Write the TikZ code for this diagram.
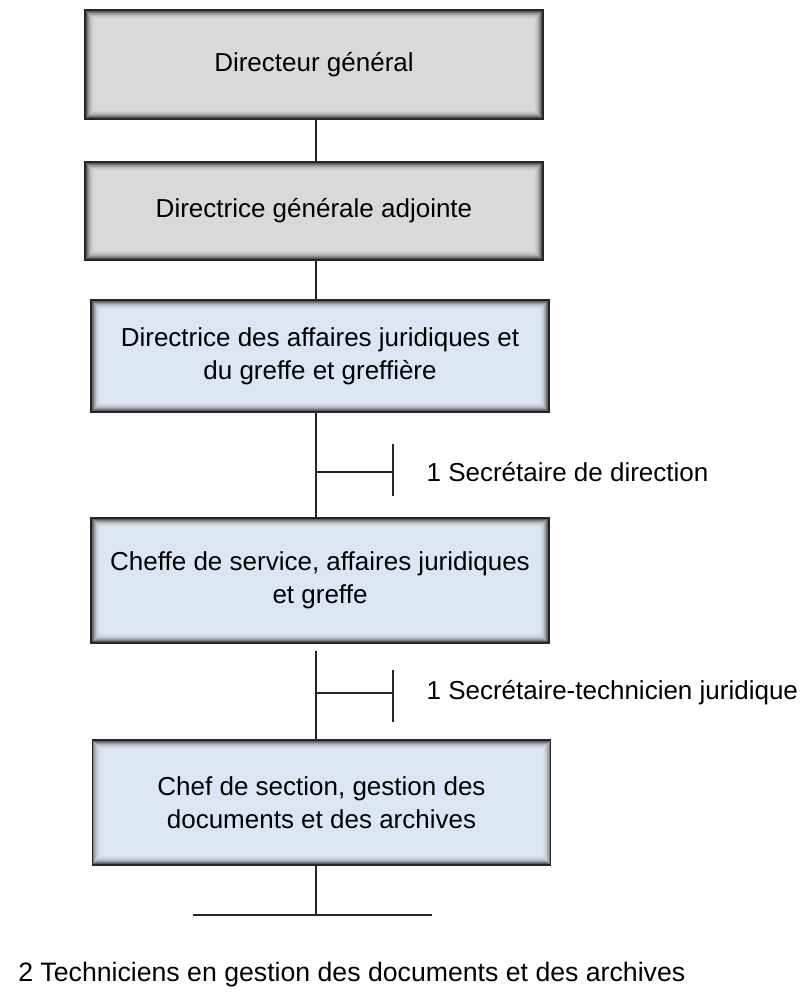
\documentclass[tikz,border=0pt]{standalone}
\usepackage{fontspec}
\setmainfont{Liberation Sans}
\usetikzlibrary{positioning}

\definecolor{postgray}{HTML}{D9D9D9}
\definecolor{postblue}{HTML}{DCE6F2}

\tikzset{
  post/.style={draw=black!85, line width=1.4pt, minimum width=343.5pt,
    align=center, font=\fontsize{19.5pt}{24.5pt}\selectfont,
    path picture={
      \foreach \i/\o in {1/0.42,2/0.30,3/0.21,4/0.14,5/0.09,6/0.05,7/0.03,8/0.015}
        \draw[black, opacity=\o, line width=0.8pt]
          ([xshift=\i*0.75pt, yshift=\i*0.75pt]path picture bounding box.south west)
          rectangle ([xshift=-\i*0.75pt, yshift=-\i*0.75pt]path picture bounding box.north east);
    }},
  grey post/.style={post, fill=postgray},
  blue post/.style={post, fill=postblue},
  link/.style={draw=black!85, line width=1.1pt},
  staff/.style={font=\fontsize{19.5pt}{24pt}\selectfont, inner sep=0pt, anchor=west}
}

\begin{document}
\begin{tikzpicture}[x=0.75pt,y=-0.75pt]
\useasboundingbox (0,0) rectangle (811,992);

% postes
\node[grey post, minimum height=81.75pt] (dg) at (314,64.5) {Directeur général};
\node[grey post, minimum height=73.5pt] (dga) at (314,211) {Directrice générale adjointe};
\node[blue post, minimum height=84pt] (daj) at (320,356) {Directrice des affaires juridiques et\\du greffe et greffière};
\node[blue post, minimum height=93.75pt] (chef) at (320,580.5) {Cheffe de service, affaires juridiques\\et greffe};
\node[blue post, minimum height=93.75pt] (sect) at (321.5,802.5) {Chef de section, gestion des\\documents et des archives};

% ligne hierarchique
\coordinate (spine) at (316,0);
\draw[link] (dg.south -| spine) -- (dga.north -| spine);
\draw[link] (dga.south -| spine) -- (daj.north -| spine);
\draw[link] (daj.south -| spine) -- (chef.north -| spine);
\draw[link] ([yshift=-5pt]chef.south -| spine) -- (sect.north -| spine);

% secretaires
\coordinate (b1) at (316,472);
\coordinate (t1) at (393,472);
\draw[link] (b1) -- (t1);
\draw[link] ([yshift=21pt]t1) -- ([yshift=-18pt]t1);
\node[staff, right=25pt of t1] (sec1) {1 Secrétaire de direction};

\coordinate (b2) at (316,693);
\coordinate (t2) at (393,693);
\draw[link] (b2) -- (t2);
\draw[link] ([yshift=17pt]t2) -- ([yshift=-22pt]t2);
\node[staff, right=25pt of t2] (sec2) {1 Secrétaire-technicien juridique};

% techniciens
\coordinate (foot) at (316,915);
\coordinate (footL) at (193,915);
\coordinate (footR) at (432,915);
\draw[link] (sect.south -| spine) -- (foot);
\draw[link] (footL) -- (footR);
\node[staff, font=\fontsize{20pt}{24pt}\selectfont] (tech) at (18,975) {2 Techniciens en gestion des documents et des archives};
\end{tikzpicture}
\end{document}
